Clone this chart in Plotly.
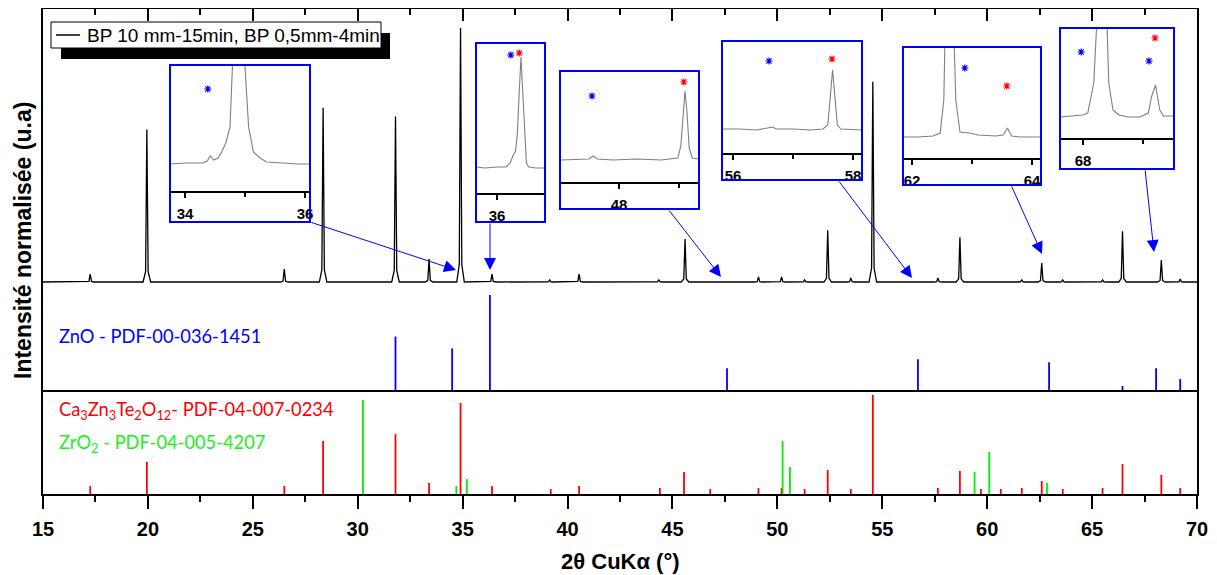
import plotly.graph_objects as go

# ---------------- data ----------------
# main XRD pattern: peak positions (2theta, deg) and normalised intensities
peak_pos = [17.25, 19.95, 26.5, 28.35, 31.8, 33.4, 34.9, 36.4, 39.15, 40.55, 44.35,
            45.6, 49.1, 50.2, 51.3, 52.4, 53.5, 54.55, 57.65, 58.7, 61.65, 62.6,
            63.6, 65.5, 66.45, 68.3, 69.2]
peak_int = [0.031, 0.600, 0.051, 0.686, 0.651, 0.090, 1.000, 0.031, 0.008, 0.031, 0.008,
            0.169, 0.020, 0.020, 0.008, 0.204, 0.016, 0.788, 0.016, 0.176, 0.008, 0.075,
            0.008, 0.008, 0.200, 0.086, 0.012]

# reference patterns (relative intensities)
zno_pos = [31.8, 34.5, 36.3, 47.6, 56.7, 62.95, 66.45, 68.05, 69.2]
zno_int = [54, 42, 96, 22, 31, 28, 4, 22, 11]

czto_pos = [17.25, 19.95, 26.5, 28.35, 31.8, 33.4, 34.9, 36.4, 39.2, 40.55, 44.4, 45.55,
            46.8, 49.1, 50.2, 51.3, 52.4, 53.5, 54.55, 57.65, 58.7, 59.7, 60.65, 61.65,
            62.6, 63.6, 65.5, 66.45, 68.3, 69.2]
czto_int = [8, 32, 8, 53, 60, 11, 91, 8, 5, 8, 6, 22,
            5, 6, 6, 5, 24, 5, 99, 6, 23, 5, 5, 6,
            13, 5, 6, 30, 19, 6]

zro2_pos = [30.25, 34.7, 35.2, 50.25, 50.6, 59.4, 60.1, 62.85]
zro2_int = [94, 8, 15, 53, 27, 22, 42, 11]

# zoomed insets (2theta, local intensity)
ins1_x = [33.75, 34.0, 34.3, 34.37, 34.42, 34.48, 34.55, 34.61, 34.68, 34.75, 34.79, 34.88,
          35.0, 35.06, 35.14, 35.25, 35.36, 35.6, 35.9, 36.08]
ins1_y = [27, 28, 28, 30, 35, 31, 33, 39, 48, 64, 124, 420, 124, 64, 39, 33, 29, 28, 27, 27]
ins2_x = [35.65, 35.8, 36.0, 36.15, 36.22, 36.27, 36.31, 36.34, 36.37, 36.4, 36.43, 36.46,
          36.49, 36.53, 36.65, 36.8]
ins2_y = [26, 25, 26, 26, 30, 38, 42, 60, 100, 136, 100, 60, 30, 26, 25, 25]
ins3_x = [47.02, 47.3, 47.5, 47.57, 47.64, 47.9, 48.3, 48.7, 48.98, 49.03, 49.07, 49.1,
          49.13, 49.17, 49.22, 49.33]
ins3_y = [22, 23, 23, 26, 23, 22, 23, 22, 24, 36, 72, 91, 72, 34, 24, 23]
ins4_x = [55.82, 56.1, 56.4, 56.6, 56.66, 56.72, 57.0, 57.3, 57.5, 57.58, 57.62, 57.66,
          57.7, 57.74, 57.8, 58.0, 58.15]
ins4_y = [24, 24, 23, 25, 26, 24, 24, 23, 24, 28, 55, 83, 55, 28, 24, 23, 23]
ins5_x = [61.85, 62.1, 62.35, 62.47, 62.53, 62.58, 62.64, 62.7, 62.73, 62.8, 62.95, 63.1,
          63.4, 63.52, 63.59, 63.66, 63.8, 64.15]
ins5_y = [21, 21, 22, 25, 58, 120, 400, 120, 58, 26, 25, 23, 22, 23, 30, 22, 21, 21]
ins6_x = [67.62, 67.8, 68.0, 68.08, 68.18, 68.23, 68.31, 68.4, 68.43, 68.5, 68.6, 68.75,
          68.95, 69.09, 69.14, 69.21, 69.28, 69.34, 69.52]
ins6_y = [21, 22, 23, 25, 55, 115, 400, 115, 55, 28, 23, 21, 21, 25, 41, 53, 28, 22, 22]

# phase markers in the insets: (inset, 2theta, height)
blue_marks_ins = [1, 2, 3, 4, 5, 6, 6]
blue_marks_x = [34.38, 36.23, 47.55, 56.6, 62.88, 67.97, 69.1]
blue_marks_y = [102, 138, 86, 92, 90, 86, 77]
red_marks_ins = [2, 3, 4, 5, 6]
red_marks_x = [36.37, 49.08, 57.65, 63.58, 69.2]
red_marks_y = [140, 100, 94, 72, 100]

legend_label = "BP 10 mm-15min, BP 0,5mm-4min"
zno_label = "ZnO - PDF-00-036-1451"
czto_label = "Ca<sub>3</sub>Zn<sub>3</sub>Te<sub>2</sub>O<sub>12</sub>- PDF-04-007-0234"
zro2_label = "ZrO<sub>2</sub> - PDF-04-005-4207"

# ---------------- geometry helpers ----------------
# the page body has an 8px margin, so the figure is 8px smaller and all
# reference pixel positions (page coordinates) are shifted by OFF.
OFF = 8
W, H = 1217 - OFF, 575 - OFF
ML, MR, MT, MB = 43 - OFF, 20, 1, 81
PW, PH = W - ML - MR, H - MT - MB


def fx(px):
    return (px - OFF - ML) / PW


def fy(py):
    return (H - MB - (py - OFF)) / PH


BLUE, RED, GREEN = "#0000FF", "#FF0000", "#00EE00"
AX_FONT = "Arial, Liberation Sans, sans-serif"
LBL_FONT = "Lato, Open Sans, sans-serif"

fig = go.Figure()

# main pattern
sx, sy = [15.0], [0.0]
for p, h in zip(peak_pos, peak_int):
    sx += [p - 0.18, p - 0.06, p, p + 0.06, p + 0.18]
    sy += [0.0, 0.07 * h, h, 0.07 * h, 0.0]
sx.append(70.0)
sy.append(0.0)
fig.add_trace(go.Scatter(x=sx, y=sy, mode="lines", line=dict(color="black", width=1.3),
                         xaxis="x3", yaxis="y3", name=legend_label, showlegend=False))


def sticks(pos, inten, color, xa, ya, name):
    xs, ys = [], []
    for p, v in zip(pos, inten):
        xs += [p, p, None]
        ys += [0, v, None]
    fig.add_trace(go.Scatter(x=xs, y=ys, mode="lines", line=dict(color=color, width=1.8),
                             xaxis=xa, yaxis=ya, name=name, showlegend=False))


sticks(zno_pos, zno_int, BLUE, "x2", "y2", "ZnO")
sticks(czto_pos, czto_int, RED, "x", "y", "Ca3Zn3Te2O12")
sticks(zro2_pos, zro2_int, GREEN, "x", "y", "ZrO2")

# insets: (left, right, top, axis_y, bottom, xmin, xmax) in reference pixels
insets = [
    (170, 310, 65, 191, 222, 33.75, 36.083),
    (476, 545, 43, 193, 222, 35.65, 36.8),
    (560, 699, 71, 182, 209, 47.017, 49.333),
    (722, 862, 41, 153, 180, 55.817, 58.15),
    (903, 1041, 47, 158, 185, 61.85, 64.15),
    (1060, 1174, 28, 138, 169, 67.617, 69.517),
]
ins_data = [(ins1_x, ins1_y), (ins2_x, ins2_y), (ins3_x, ins3_y),
            (ins4_x, ins4_y), (ins5_x, ins5_y), (ins6_x, ins6_y)]

shapes = []
layout_axes = {}
for i, ((L, R, T, A, B, x0, x1), (cx, cy)) in enumerate(zip(insets, ins_data)):
    n = i + 4
    xa, ya = f"x{n}", f"y{n}"
    shapes.append(dict(type="rect", xref="paper", yref="paper", x0=fx(L), x1=fx(R),
                       y0=fy(B), y1=fy(T), fillcolor="white", line=dict(width=0),
                       layer="below"))
    shapes.append(dict(type="rect", xref="paper", yref="paper", x0=fx(L), x1=fx(R),
                       y0=fy(B), y1=fy(T), line=dict(color=BLUE, width=2), layer="above"))
    fig.add_trace(go.Scatter(x=cx, y=cy, mode="lines", line=dict(color="#7f7f7f", width=1.1),
                             xaxis=xa, yaxis=ya, showlegend=False))
    bx = [x for k, x in zip(blue_marks_ins, blue_marks_x) if k == i + 1]
    by = [y for k, y in zip(blue_marks_ins, blue_marks_y) if k == i + 1]
    rx = [x for k, x in zip(red_marks_ins, red_marks_x) if k == i + 1]
    ry = [y for k, y in zip(red_marks_ins, red_marks_y) if k == i + 1]
    fig.add_trace(go.Scatter(x=bx, y=by, mode="markers", xaxis=xa, yaxis=ya, showlegend=False,
                             marker=dict(symbol="asterisk-open", size=6, color=BLUE,
                                         line=dict(color=BLUE, width=1.2))))
    if rx:
        fig.add_trace(go.Scatter(x=rx, y=ry, mode="markers", xaxis=xa, yaxis=ya,
                                 showlegend=False,
                                 marker=dict(symbol="asterisk-open", size=6, color=RED,
                                             line=dict(color=RED, width=1.2))))
    layout_axes[f"xaxis{n}"] = dict(domain=[fx(L), fx(R)], range=[x0, x1], anchor=ya,
                                    showline=True, linecolor="black", linewidth=1.5,
                                    ticks="outside", ticklen=5, tickwidth=1.5,
                                    tickcolor="black", tick0=0, dtick=2,
                                    ticklabelstandoff=3,
                                    minor=dict(dtick=1, ticks="outside", ticklen=4,
                                               tickwidth=1.5, tickcolor="black"),
                                    showgrid=False, zeroline=False,
                                    tickfont=dict(family=AX_FONT, size=15, color="black",
                                                  weight="bold"))
    layout_axes[f"yaxis{n}"] = dict(domain=[fy(A), fy(T)], range=[0, A - T], anchor=xa,
                                    visible=False, showgrid=False)

# legend box with shadow
shapes.append(dict(type="rect", xref="paper", yref="paper", x0=fx(61), x1=fx(390),
                   y0=fy(59), y1=fy(33), fillcolor="black", line=dict(width=0),
                   layer="above"))
shapes.append(dict(type="rect", xref="paper", yref="paper", x0=fx(51), x1=fx(381),
                   y0=fy(48), y1=fy(22), fillcolor="white",
                   line=dict(color="black", width=1), layer="above"))
shapes.append(dict(type="line", xref="paper", yref="paper", x0=fx(56), x1=fx(80),
                   y0=fy(35), y1=fy(35), line=dict(color="black", width=1.5),
                   layer="above"))

annotations = [
    dict(text=legend_label, xref="paper", yref="paper", x=fx(85), y=fy(35),
         xanchor="left", yanchor="middle", showarrow=False,
         font=dict(family=AX_FONT, size=19, color="black")),
    dict(text=zno_label, xref="paper", yref="paper", x=fx(57), y=fy(336),
         xanchor="left", yanchor="middle", showarrow=False,
         font=dict(family=LBL_FONT, size=18.3, color=BLUE)),
    dict(text=czto_label, xref="paper", yref="paper", x=fx(57), y=fy(410),
         xanchor="left", yanchor="middle", showarrow=False,
         font=dict(family=LBL_FONT, size=18.3, color=RED)),
    dict(text=zro2_label, xref="paper", yref="paper", x=fx(57), y=fy(443),
         xanchor="left", yanchor="middle", showarrow=False,
         font=dict(family=LBL_FONT, size=18.3, color="#22EE22")),
    dict(text="<b>Intensité normalisée (u.a)</b>", xref="paper", yref="paper",
         x=fx(23), y=fy(241), textangle=-90, showarrow=False,
         xanchor="center", yanchor="middle",
         font=dict(family=AX_FONT, size=23, color="black")),
    dict(text="<b>2θ CuKα (°)</b>", xref="paper", yref="paper",
         x=fx(620), y=fy(561), showarrow=False, xanchor="center", yanchor="middle",
         font=dict(family=AX_FONT, size=22, color="black")),
]

# arrows from insets to the main pattern: (tail_px, tail_py, head_px, head_py)
arrows = [(310, 222, 456, 270), (490, 222, 490, 270), (668, 209, 721, 277),
          (838, 180, 912, 278), (1011, 185, 1042, 254), (1145, 169, 1154, 252)]
for tx, ty, hx, hy in arrows:
    annotations.append(dict(text="", xref="paper", yref="paper", x=fx(hx), y=fy(hy),
                            ax=tx - hx, ay=ty - hy, showarrow=True, arrowhead=2,
                            arrowsize=2.4, arrowwidth=1, arrowcolor=BLUE, standoff=0))

frame = dict(showline=True, linecolor="black", linewidth=2, showgrid=False,
             zeroline=False)
d_bot, d_mid = fy(390), fy(285)

fig.update_layout(
    width=W, height=H,
    margin=dict(l=ML, r=MR, t=MT, b=MB, autoexpand=False),
    paper_bgcolor="white", plot_bgcolor="white",
    showlegend=False,
    xaxis=dict(domain=[0, 1], range=[15, 70], anchor="y", ticks="outside", ticklen=13,
               tickwidth=2, tickcolor="black", tick0=15, dtick=5, ticklabelstandoff=3,
               minor=dict(dtick=2.5, ticks="outside", ticklen=6, tickwidth=2,
                          tickcolor="black"),
               tickfont=dict(family=AX_FONT, size=20, color="black", weight="bold"),
               **frame),
    yaxis=dict(domain=[0, d_bot], range=[0, 104], anchor="x", mirror=True,
               ticks="", showticklabels=False, **frame),
    xaxis2=dict(domain=[0, 1], range=[15, 70], anchor="y2", ticks="",
                showticklabels=False, **frame),
    yaxis2=dict(domain=[d_bot, d_mid], range=[0, 106], anchor="x2", mirror=True,
                ticks="", showticklabels=False, **frame),
    xaxis3=dict(domain=[0, 1], range=[15, 70], anchor="y3", side="top", ticks="inside",
                ticklen=12, tickwidth=2, tickcolor="black", tick0=15, dtick=5,
                showticklabels=False,
                minor=dict(dtick=2.5, ticks="inside", ticklen=6, tickwidth=2,
                           tickcolor="black"),
                **frame),
    yaxis3=dict(domain=[d_mid, 1], range=[-3 / 255, 274 / 255], anchor="x3",
                mirror=True, ticks="", showticklabels=False, **frame),
    shapes=shapes,
    annotations=annotations,
    **layout_axes,
)

fig.write_html("out.html")
